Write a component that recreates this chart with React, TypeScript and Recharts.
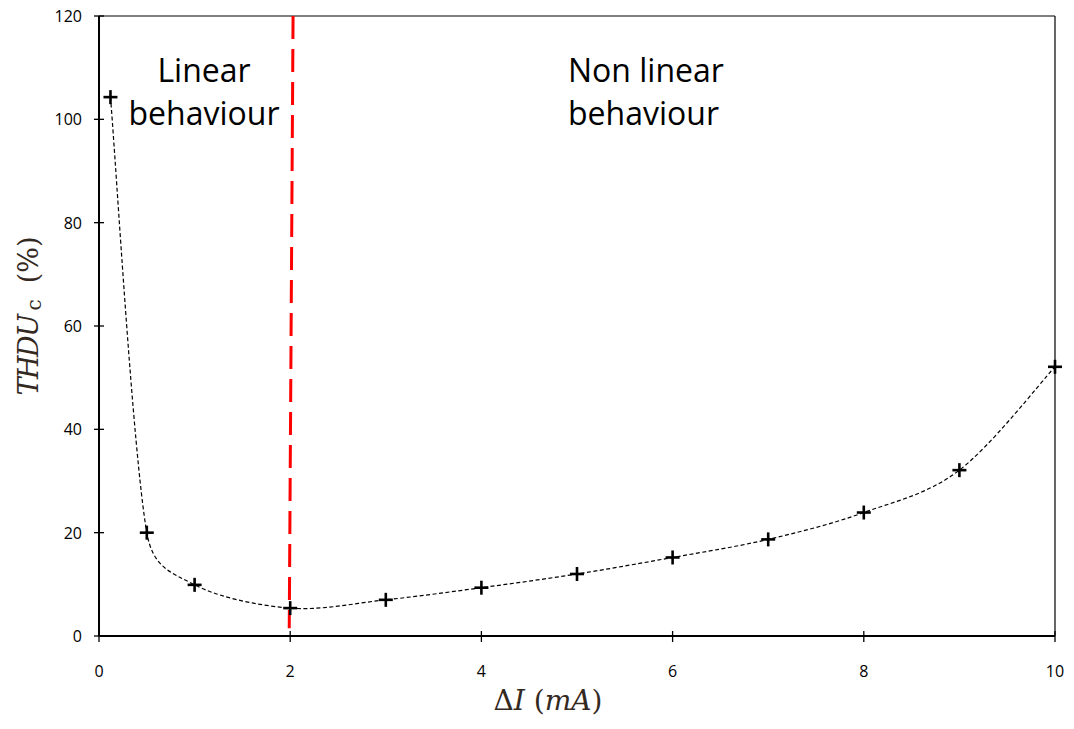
import React from 'react';
import {
  ComposedChart,
  Line,
  XAxis,
  YAxis,
  ReferenceLine,
  Customized,
} from 'recharts';

// Distortion measured against current amplitude
const deltaI = [0.12, 0.5, 1, 2, 3, 4, 5, 6, 7, 8, 9, 10];
const thdu = [104.3, 20.0, 9.9, 5.4, 7.0, 9.35, 12.0, 15.2, 18.7, 23.9, 32.1, 52.1];

const xTicks = [0, 2, 4, 6, 8, 10];
const yTicks = [0, 20, 40, 60, 80, 100, 120];

// boundary between the two regimes
const boundaryTop = { x: 2.03, y: 120 };
const boundaryBottom = { x: 1.99, y: 1.5 };

const data = deltaI.map((x, i) => ({ x, y: thdu[i] }));

const TICK_FONT = '"Open Sans", "Liberation Sans", sans-serif';
const MATH_FONT = '"DejaVu Serif", "Liberation Serif", serif';
const LABEL_COLOR = '#33291f';

// Smoothed line in the spreadsheet style: cubic Bezier segments whose
// tangents follow neighbouring points, with arms limited to half a segment.
function smoothCurve(context: any) {
  let pts: [number, number][] = [];
  const dist = (a: [number, number], b: [number, number]) =>
    Math.hypot(b[0] - a[0], b[1] - a[1]);
  return {
    areaStart() {},
    areaEnd() {},
    lineStart() {
      pts = [];
    },
    point(x: number, y: number) {
      pts.push([+x, +y]);
    },
    lineEnd() {
      const n = pts.length;
      if (!n) return;
      context.moveTo(pts[0][0], pts[0][1]);
      for (let i = 0; i < n - 1; i++) {
        const p0 = pts[Math.max(0, i - 1)];
        const p1 = pts[i];
        const p2 = pts[i + 1];
        const p3 = pts[Math.min(n - 1, i + 2)];
        const seg = dist(p1, p2);
        let t1x = (p2[0] - p0[0]) / 6;
        let t1y = (p2[1] - p0[1]) / 6;
        let t2x = (p3[0] - p1[0]) / 6;
        let t2y = (p3[1] - p1[1]) / 6;
        const l1 = Math.hypot(t1x, t1y);
        const l2 = Math.hypot(t2x, t2y);
        if (l1 > seg / 2) {
          t1x *= seg / 2 / l1;
          t1y *= seg / 2 / l1;
        }
        if (l2 > seg / 2) {
          t2x *= seg / 2 / l2;
          t2y *= seg / 2 / l2;
        }
        context.bezierCurveTo(p1[0] + t1x, p1[1] + t1y, p2[0] - t2x, p2[1] - t2y, p2[0], p2[1]);
      }
    },
  };
}

const PlusMarker = (props: any) => {
  const { cx, cy } = props;
  if (cx == null || cy == null) return null;
  return (
    <g>
      <line x1={cx - 7} y1={cy} x2={cx + 7} y2={cy} stroke="#000" strokeWidth={2.6} />
      <line x1={cx} y1={cy - 7} x2={cx} y2={cy + 7} stroke="#000" strokeWidth={2.6} />
    </g>
  );
};

const YTick = (props: any) => {
  const { x, y, payload } = props;
  return (
    <g>
      <line x1={x - 5} y1={y} x2={x + 5} y2={y} stroke="#000" strokeWidth={1.3} />
      <text
        x={x - 17}
        y={y}
        textAnchor="end"
        dominantBaseline="central"
        fontFamily={TICK_FONT}
        fontSize={16}
        fill="#000"
      >
        {payload.value}
      </text>
    </g>
  );
};

const XTick = (props: any) => {
  const { x, y, payload } = props;
  return (
    <g>
      <line x1={x} y1={y - 5} x2={x} y2={y + 6} stroke="#000" strokeWidth={1.3} />
      <text
        x={x}
        y={y + 35}
        textAnchor="middle"
        dominantBaseline="central"
        fontFamily={TICK_FONT}
        fontSize={16}
        fill="#000"
      >
        {payload.value}
      </text>
    </g>
  );
};

const XTitle = () => (
  <text
    x={548}
    y={710}
    textAnchor="middle"
    fontFamily={MATH_FONT}
    fontSize={28}
    fill={LABEL_COLOR}
  >
    <tspan>Δ</tspan>
    <tspan fontStyle="italic">I</tspan>
    <tspan dx={9}>(</tspan>
    <tspan fontStyle="italic">mA</tspan>
    <tspan>)</tspan>
  </text>
);

const YTitle = () => (
  <text
    x={28}
    y={316}
    transform="rotate(-90 28 316)"
    textAnchor="middle"
    dominantBaseline="central"
    fontFamily={MATH_FONT}
    fontSize={27}
    fill={LABEL_COLOR}
  >
    <tspan fontStyle="italic" letterSpacing={-1.5}>THDU</tspan>
    <tspan fontSize={20} dx={5} dy={6}>c</tspan>
    <tspan dx={16} dy={-6}>(%)</tspan>
  </text>
);

const RegionNotes = () => (
  <g fontFamily={TICK_FONT} fontSize={32} fill="#000">
    <text x={204} y={82} textAnchor="middle">Linear</text>
    <text x={204} y={125} textAnchor="middle">behaviour</text>
    <text x={568} y={82}>Non linear</text>
    <text x={568} y={125}>behaviour</text>
  </g>
);

export default function App() {
  return (
    <div style={{ margin: -8 }}>
      <ComposedChart
        width={1074}
        height={729}
        data={data}
        margin={{ top: 16, right: 19, bottom: 0, left: 0 }}
      >
        <XAxis
          dataKey="x"
          type="number"
          domain={[0, 10]}
          ticks={xTicks}
          interval={0}
          height={93}
          tickSize={0}
          tickMargin={0}
          tickLine={false}
          axisLine={{ stroke: '#000', strokeWidth: 2 }}
          tick={<XTick />}
          label={{ content: () => <XTitle /> }}
        />
        <YAxis
          type="number"
          domain={[0, 120]}
          ticks={yTicks}
          interval={0}
          width={99}
          tickSize={0}
          tickMargin={0}
          tickLine={false}
          axisLine={{ stroke: '#000', strokeWidth: 2 }}
          tick={<YTick />}
          label={{ content: () => <YTitle /> }}
        />
        <ReferenceLine y={120} stroke="#000" strokeWidth={1.2} />
        <ReferenceLine x={10} stroke="#000" strokeWidth={1.2} />
        <ReferenceLine
          segment={[boundaryTop, boundaryBottom]}
          stroke="#ff0000"
          strokeWidth={3}
          strokeDasharray="23 10"
        />
        <Line
          dataKey="y"
          type={smoothCurve as any}
          stroke="#000"
          strokeWidth={1.2}
          strokeDasharray="4 2.5"
          dot={<PlusMarker />}
          activeDot={false}
          isAnimationActive={false}
        />
        <Customized component={<RegionNotes />} />
      </ComposedChart>
    </div>
  );
}
